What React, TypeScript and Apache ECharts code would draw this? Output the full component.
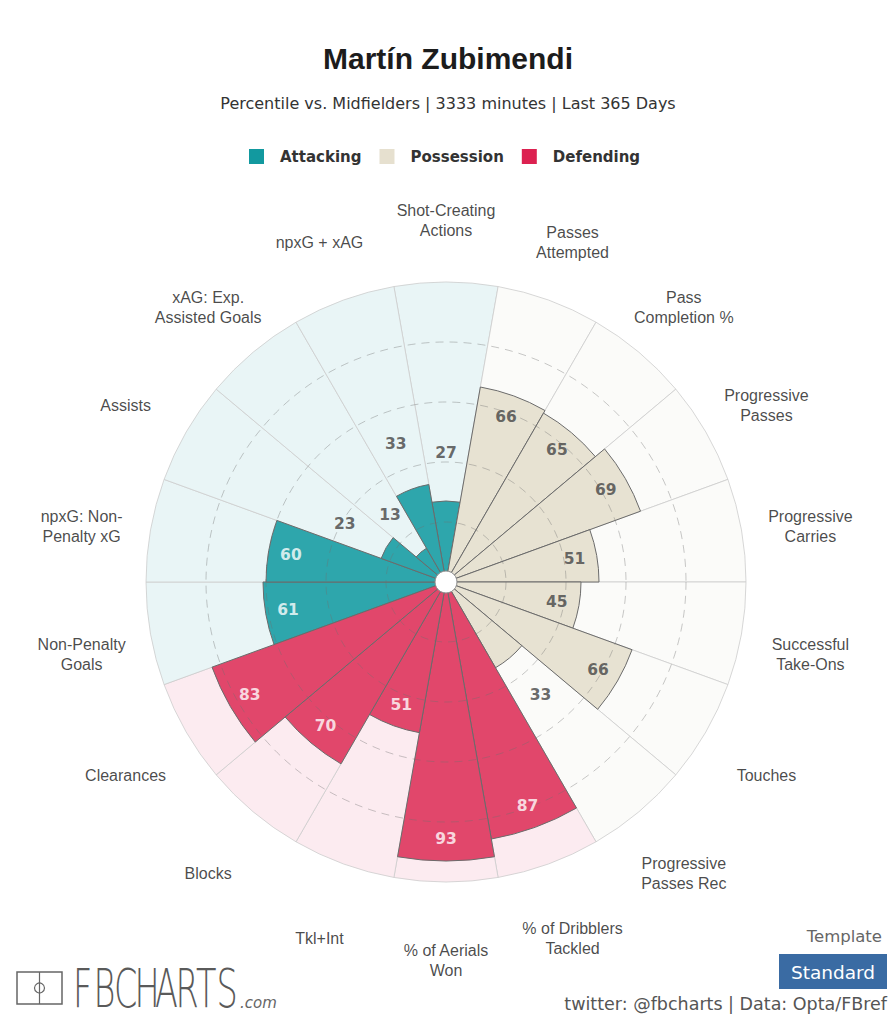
import React, { useEffect, useRef } from 'react';
import * as echarts from 'echarts';

const categories = [
  'Shot-Creating\nActions',
  'Passes\nAttempted',
  'Pass\nCompletion %',
  'Progressive\nPasses',
  'Progressive\nCarries',
  'Successful\nTake-Ons',
  'Touches',
  'Progressive\nPasses Rec',
  '% of Dribblers\nTackled',
  '% of Aerials\nWon',
  'Tkl+Int',
  'Blocks',
  'Clearances',
  'Non-Penalty\nGoals',
  'npxG: Non-\nPenalty xG',
  'Assists',
  'xAG: Exp.\nAssisted Goals',
  'npxG + xAG',
];
const values = [27, 66, 65, 69, 51, 45, 66, 33, 87, 93, 51, 70, 83, 61, 60, 23, 13, 33];
const groups = [
  'Attacking',
  'Possession', 'Possession', 'Possession', 'Possession', 'Possession', 'Possession', 'Possession',
  'Defending', 'Defending', 'Defending', 'Defending', 'Defending',
  'Attacking', 'Attacking', 'Attacking', 'Attacking', 'Attacking',
];
const groupNames = ['Attacking', 'Possession', 'Defending'];
const titleText = 'Martín Zubimendi';
const subtitleText = 'Percentile vs. Midfielders | 3333 minutes | Last 365 Days';

const barColors: Record<string, string> = { Attacking: '#2ea6ac', Possession: '#e7e2d2', Defending: '#e1476b' };
const bgColors: Record<string, string> = { Attacking: '#e9f5f6', Possession: '#fbfbf9', Defending: '#fcebf0' };
const legendColors: Record<string, string> = { Attacking: '#12999f', Possession: '#e6e0cf', Defending: '#dc2150' };

const CX = 446;
const CY = 582;
const R = 300;

export default function App() {
  const ref = useRef<HTMLDivElement>(null);
  useEffect(() => {
    if (!ref.current) return;
    const chart = echarts.init(ref.current, undefined, { renderer: 'svg' });

    const angleBase = {
      type: 'category',
      data: categories,
      startAngle: 100,
      clockwise: true,
      boundaryGap: true,
      axisLine: { show: false },
      axisTick: { show: false },
      axisLabel: { show: false },
      splitLine: { show: false },
    };
    const gridColor = 'rgba(110,110,110,0.38)';

    const dataSeries = groupNames.map((g) => ({
      name: g,
      type: 'bar',
      coordinateSystem: 'polar',
      polarIndex: 0,
      barGap: '-100%',
      barCategoryGap: '0%',
      z: 3,
      itemStyle: { color: barColors[g], borderColor: '#6b6b6b', borderWidth: 1 },
      data: values.map((v, i) => (groups[i] === g ? v : '-')),
    }));

    const valueLabels = values.map((v, i) => {
      const inside = v >= 40;
      const r = inside ? v - 7.5 : v + 16;
      const color = inside && groups[i] !== 'Possession' ? '#ffffff' : '#444444';
      return { name: String(v), value: [r, i], label: { color } };
    });

    const logoLetters = 'FBCHARTS'.split('');

    chart.setOption({
      animation: false,
      backgroundColor: '#ffffff',
      title: [
        {
          text: titleText,
          left: 'center',
          top: 38,
          textStyle: { fontFamily: 'Liberation Sans', fontSize: 30, fontWeight: 'bold', color: '#1c1c1c' },
        },
        {
          text: subtitleText,
          left: 'center',
          top: 90,
          textStyle: { fontFamily: 'DejaVu Sans', fontSize: 16, fontWeight: 'normal', color: '#333' },
        },
      ],
      legend: {
        top: 144,
        left: 244,
        icon: 'rect',
        itemWidth: 15,
        itemHeight: 15,
        itemGap: 18,
        selectedMode: false,
        data: groupNames.map((g) => ({ name: g, itemStyle: { color: legendColors[g], borderWidth: 0 } })),
        textStyle: {
          fontFamily: 'DejaVu Sans',
          fontWeight: 'bold',
          fontSize: 15,
          color: '#333',
          padding: [0, 0, 0, 11],
        },
      },
      polar: [
        { center: [CX, CY], radius: R },
        { center: [CX, CY + 8.5], radius: 370 },
      ],
      angleAxis: [
        { ...angleBase, polarIndex: 0 },
        { ...angleBase, polarIndex: 1 },
      ],
      radiusAxis: [
        {
          polarIndex: 0,
          type: 'value',
          min: 0,
          max: 100,
          interval: 20,
          z: 10,
          axisLine: { show: false },
          axisTick: { show: false },
          axisLabel: { show: false },
          splitLine: {
            show: true,
            lineStyle: {
              type: [8, 6],
              width: 1,
              color: ['rgba(0,0,0,0)', gridColor, gridColor, gridColor, gridColor, 'rgba(0,0,0,0)'],
            },
          },
        },
        {
          polarIndex: 1,
          type: 'value',
          min: 0,
          max: 100,
          axisLine: { show: false },
          axisTick: { show: false },
          axisLabel: { show: false },
          splitLine: { show: false },
        },
      ],
      series: [
        {
          name: 'bg',
          type: 'bar',
          coordinateSystem: 'polar',
          polarIndex: 0,
          barGap: '-100%',
          barCategoryGap: '0%',
          z: 1,
          silent: true,
          data: values.map((_, i) => ({
            value: 100,
            itemStyle: { color: bgColors[groups[i]], borderColor: '#cdcdcd', borderWidth: 0.8 },
          })),
        },
        ...dataSeries,
        {
          name: 'values',
          type: 'scatter',
          coordinateSystem: 'polar',
          polarIndex: 0,
          symbolSize: 1,
          silent: true,
          clip: false,
          z: 20,
          itemStyle: { color: 'rgba(0,0,0,0)' },
          label: {
            show: true,
            position: 'inside',
            formatter: '{b}',
            fontFamily: 'DejaVu Sans',
            fontWeight: 'bold',
            fontSize: 15.5,
          },
          data: valueLabels,
        },
        {
          name: 'names',
          type: 'scatter',
          coordinateSystem: 'polar',
          polarIndex: 1,
          symbolSize: 1,
          silent: true,
          clip: false,
          z: 20,
          itemStyle: { color: 'rgba(0,0,0,0)' },
          label: {
            show: true,
            position: 'inside',
            formatter: '{b}',
            fontFamily: 'Liberation Sans',
            fontSize: 16,
            lineHeight: 20,
            align: 'center',
            color: '#1a1a1a',
          },
          data: categories.map((c, i) => ({ name: c, value: [100, i] })),
        },
      ],
      graphic: [
        {
          type: 'circle',
          z: 100,
          shape: { cx: CX, cy: CY, r: 11 },
          style: { fill: '#ffffff', stroke: '#8a8a8a', lineWidth: 1 },
        },
        {
          type: 'text',
          z: 100,
          style: {
            x: 882, y: 936, text: 'Template', align: 'right', verticalAlign: 'middle',
            fontFamily: 'DejaVu Sans', fontSize: 16.5, fill: '#666',
          },
        },
        {
          type: 'rect',
          z: 100,
          shape: { x: 779, y: 954, width: 108, height: 35 },
          style: { fill: '#3a6ba3' },
        },
        {
          type: 'text',
          z: 101,
          style: {
            x: 833, y: 972, text: 'Standard', align: 'center', verticalAlign: 'middle',
            fontFamily: 'DejaVu Sans', fontSize: 18.5, fill: '#ffffff',
          },
        },
        {
          type: 'text',
          z: 100,
          style: {
            x: 887, y: 1004, text: 'twitter: @fbcharts | Data: Opta/FBref', align: 'right', verticalAlign: 'middle',
            fontFamily: 'DejaVu Sans', fontSize: 17.5, fill: '#555',
          },
        },
        {
          type: 'rect',
          z: 100,
          shape: { x: 17, y: 972, width: 45, height: 32 },
          style: { fill: 'none', stroke: '#666', lineWidth: 1.5 },
        },
        {
          type: 'line',
          z: 100,
          shape: { x1: 39.5, y1: 972, x2: 39.5, y2: 1004 },
          style: { stroke: '#666', lineWidth: 1.2 },
        },
        {
          type: 'circle',
          z: 100,
          shape: { cx: 39.5, cy: 988, r: 5 },
          style: { fill: 'none', stroke: '#666', lineWidth: 1.2 },
        },
        ...logoLetters.map((ch, i) => ({
          type: 'text',
          z: 100,
          x: 73 + i * 20.5,
          y: 988,
          scaleX: 0.62,
          style: {
            x: 0, y: 0, text: ch, align: 'left', verticalAlign: 'middle',
            fontFamily: 'DejaVu Sans', fontSize: 54, fontWeight: 200, fill: '#5a5a5a',
          },
        })),
        {
          type: 'text',
          z: 100,
          style: {
            x: 240, y: 1003, text: '.com', align: 'left', verticalAlign: 'middle',
            fontFamily: 'DejaVu Sans', fontSize: 15, fontStyle: 'italic', fill: '#666',
          },
        },
      ],
    });

    return () => chart.dispose();
  }, []);

  return (
    <div
      ref={ref}
      style={{ position: 'fixed', left: 0, top: 0, width: 896, height: 1024, background: '#fff' }}
    />
  );
}
